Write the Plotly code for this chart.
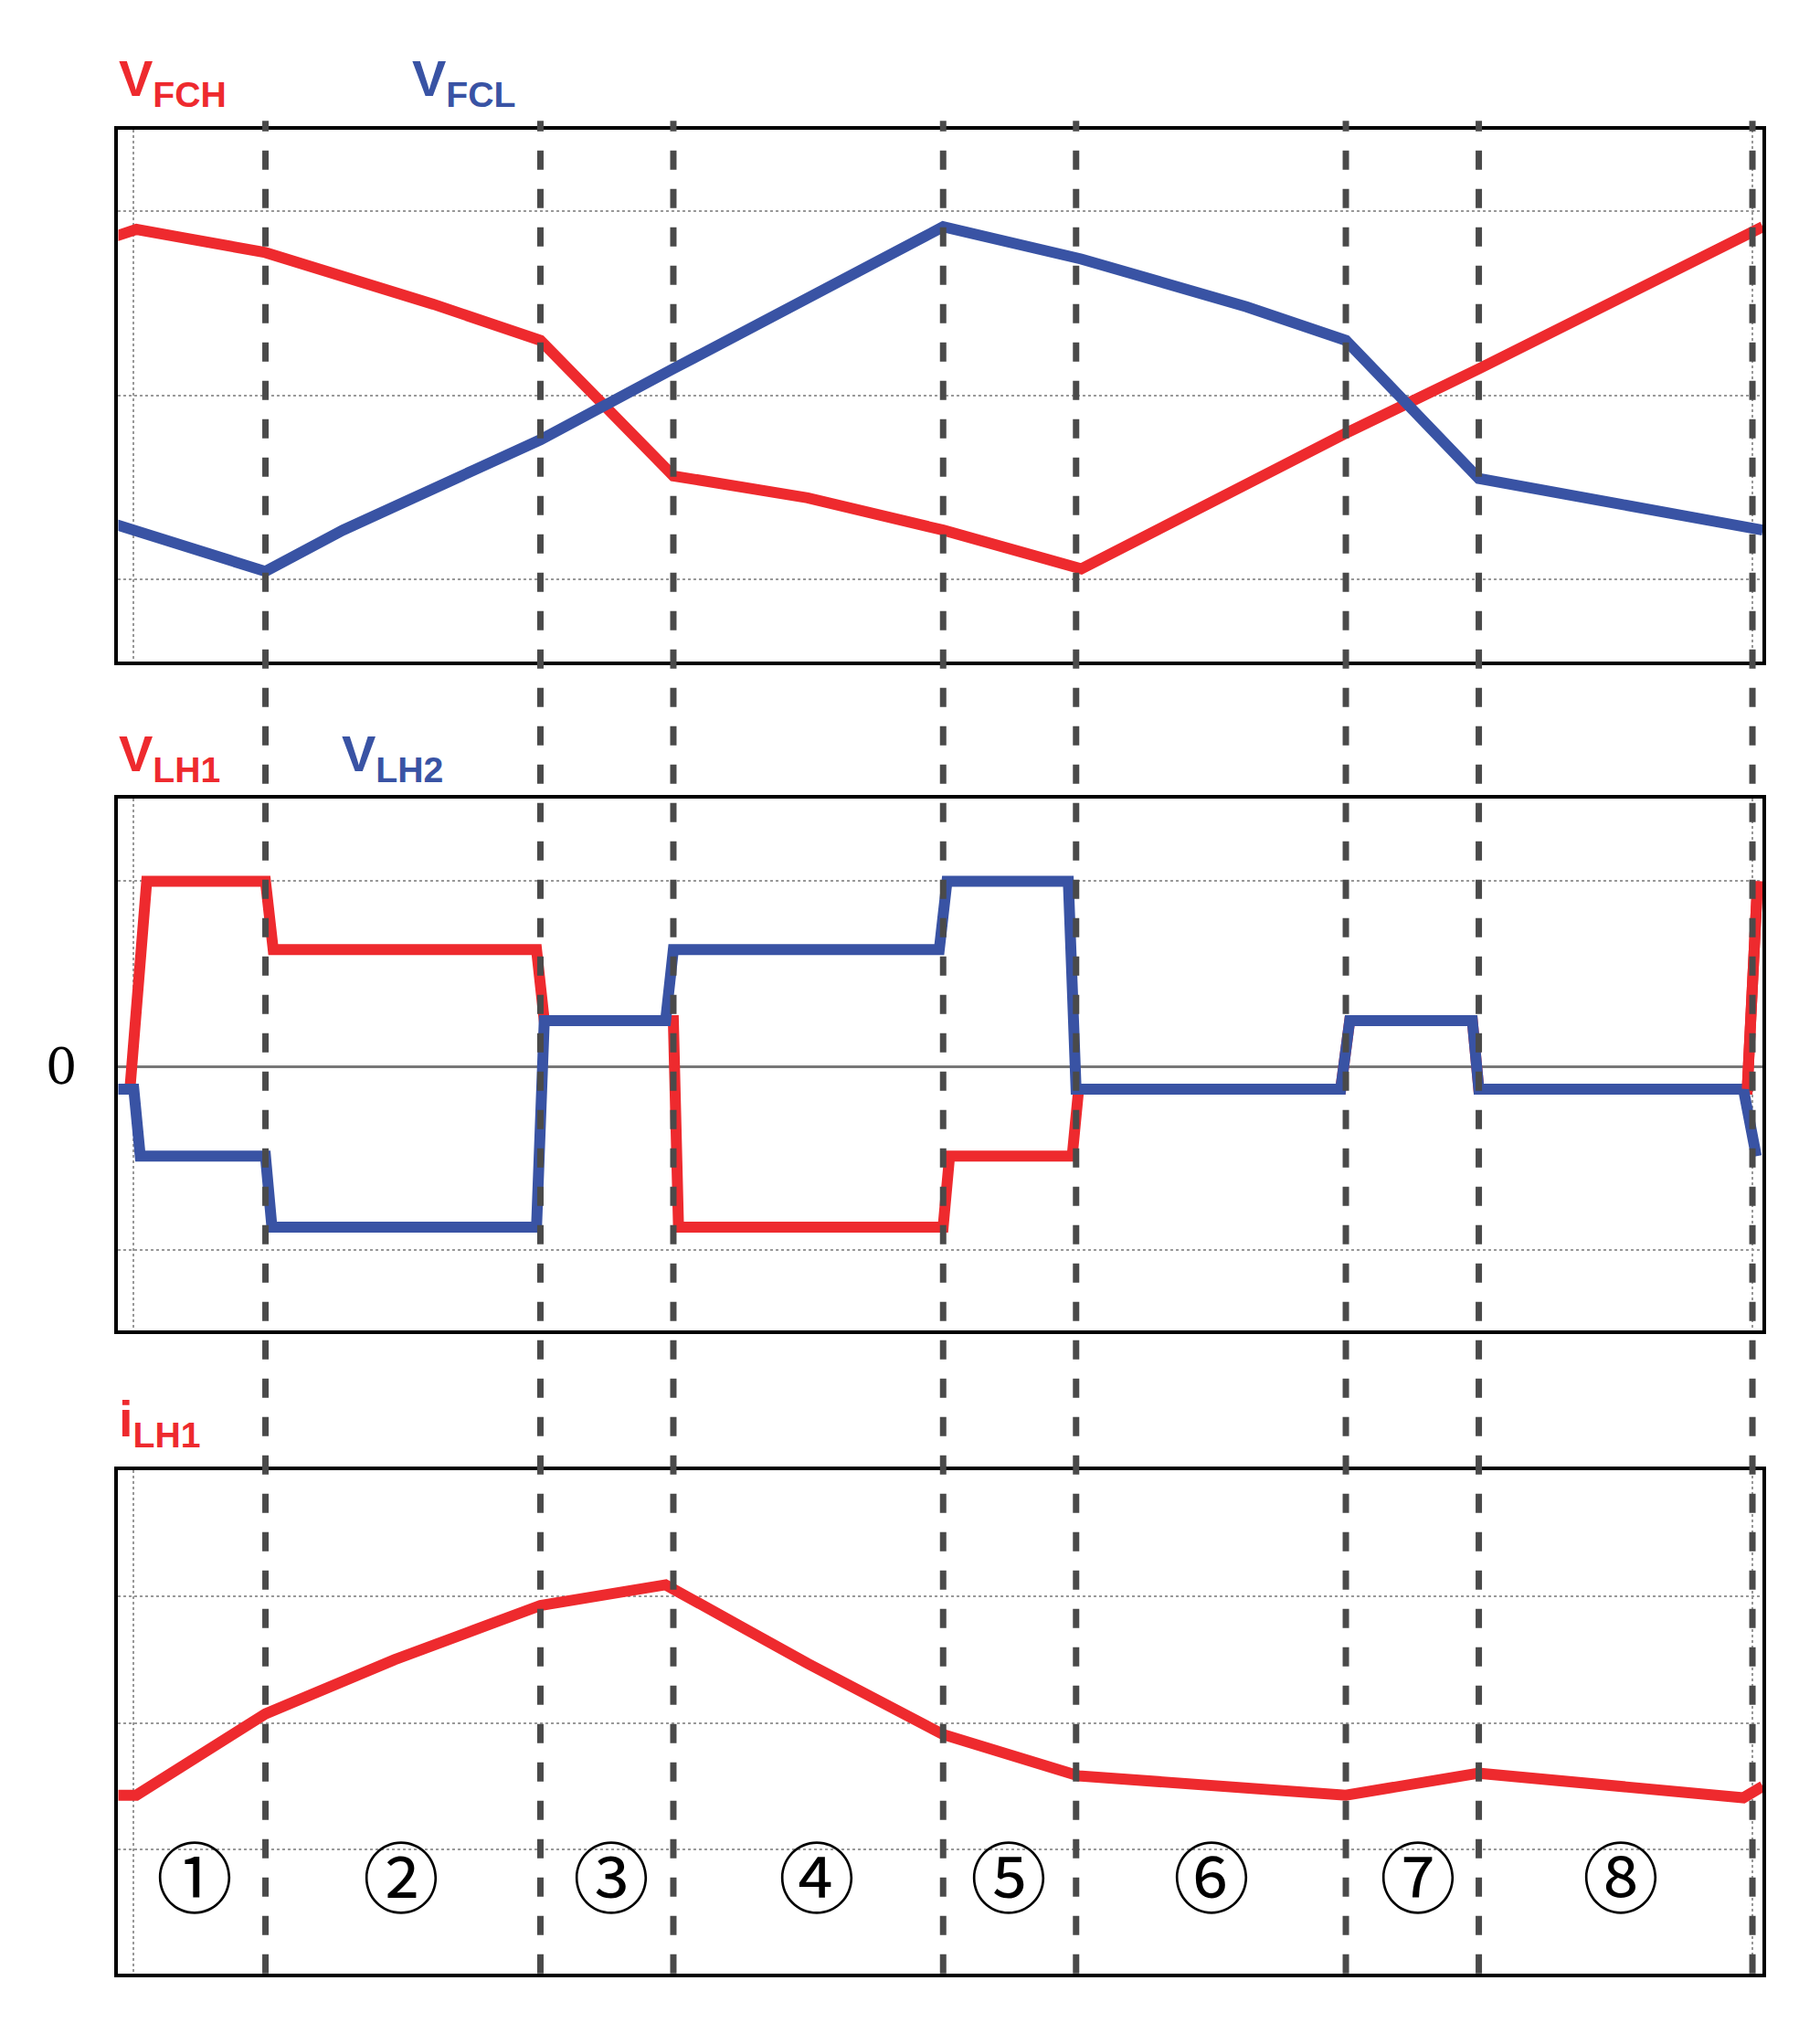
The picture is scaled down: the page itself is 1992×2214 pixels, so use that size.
import plotly.graph_objects as go

S = 1992/1410.0
W, H = 1992, 2214
RED = "#EE2A2E"; BLUE = "#3953A4"

vfch_t = [-4,14,114,244,327,430,534,639,746,951,1054,1274]
vfch_v = [329,335,317,277,249,144,127,102,72,177,227,337]
vfcl_t = [-4,114,174,327,430,534,639,746,874,951,1054,1164,1274]
vfcl_v = [107,70,102,172,227,282,337,312,275,249,142,122,102]

vlh1_t = [9,22,114,120,324,330,430,434,639,644,739,744,947,954,1049,1054,1262,1270]
vlh1_v = [-17,144,144,91,91,36,36,-124,-124,-69,-69,-17,-17,36,36,-17,-17,144]
vlh2_t = [-4,12,17,114,119,324,330,424,430,636,642,736,742,947,954,1049,1054,1259,1269]
vlh2_v = [-17,-17,-69,-69,-124,-124,36,36,91,91,144,144,-17,-17,36,36,-17,-17,-69]

ilh_t = [-4,14,114,214,327,424,534,639,744,951,1054,1259,1274]
ilh_v = [138,138,201,243,285,301,240,185,153,138,155,136,145]

dash_t = [114,327,430,639,742,951,1054,1266]
labels = ["①","②","③","④","⑤","⑥","⑦","⑧"]
label_t = [59,219,382,541,690,847,1007,1164]

panels = [(95,507),(613,1025),(1133,1523)]
def py(d): return 1 - d*S/H
x0, x1 = 86*S/W, 1360*S/W

fig = go.Figure()
ylims = [(0,412),(-204,208),(0,390)]
grids = [[64,206,349],[144,-142],[292,194,96]]
for i,(top,bot) in enumerate(panels):
    n = "" if i==0 else str(i+1)
    fig.update_layout(**{
        "xaxis"+n: dict(domain=[x0,x1], range=[0,1274], showline=True, mirror=True,
                        linecolor="black", linewidth=4, tickvals=[12,1266], showgrid=True,
                        gridcolor="#999", griddash="dot", gridwidth=1.5, showticklabels=False,
                        ticks="", zeroline=False, anchor="y"+n),
        "yaxis"+n: dict(domain=[py(bot),py(top)], range=list(ylims[i]), showline=True, mirror=True,
                        linecolor="black", linewidth=4, tickvals=grids[i], showgrid=True,
                        gridcolor="#999", griddash="dot", gridwidth=1.5, showticklabels=False,
                        ticks="", zeroline=(i==1), zerolinecolor="#777", zerolinewidth=3,
                        anchor="x"+n)})

def tr(t,v,c,i):
    n = "" if i==0 else str(i+1)
    fig.add_trace(go.Scatter(x=t,y=v,mode="lines",line=dict(color=c,width=12),
                             xaxis="x"+n,yaxis="y"+n,cliponaxis=False,showlegend=False))
tr(vfch_t,vfch_v,RED,0); tr(vfcl_t,vfcl_v,BLUE,0)
tr(vlh1_t,vlh1_v,RED,1); tr(vlh2_t,vlh2_v,BLUE,1)
fig.add_trace(go.Scatter(x=vlh1_t[-2:],y=vlh1_v[-2:],mode="lines",line=dict(color=RED,width=12),
                         xaxis="x2",yaxis="y2",showlegend=False))
tr(ilh_t,ilh_v,RED,2)

for t in dash_t:
    fig.add_shape(type="line",xref="x",yref="paper",x0=t,x1=t,y0=py(1523),y1=py(88),
                  line=dict(color="#4a4a4a",width=7,dash="dash"),layer="above")

def ann(x,y,txt,c,size=56,font="Liberation Sans"):
    fig.add_annotation(xref="paper",yref="paper",x=x*S/W,y=py(y),text=txt,showarrow=False,
                       font=dict(color=c,size=size,family=font),xanchor="left",yanchor="middle")
sub = lambda a,b: f"<b>{a}<sub>{b}</sub></b>"
ann(85,58,sub("V","FCH"),RED); ann(312,58,sub("V","FCL"),BLUE)
ann(85,581,sub("V","LH1"),RED); ann(258,581,sub("V","LH2"),BLUE)
ann(85,1096,sub("i","LH1"),RED)
ann(28,821,"0","black",54,"DejaVu Serif")
for t,l in zip(label_t,labels):
    fig.add_annotation(xref="x3",yref="paper",x=t,y=py(1465),text=l,showarrow=False,yshift=-35,
                       font=dict(size=84,color="black",family="Noto Sans CJK SC"))

fig.update_layout(width=W,height=H,margin=dict(l=0,r=0,t=0,b=0),
                  paper_bgcolor="white",plot_bgcolor="white")
fig.write_html("out.html")
